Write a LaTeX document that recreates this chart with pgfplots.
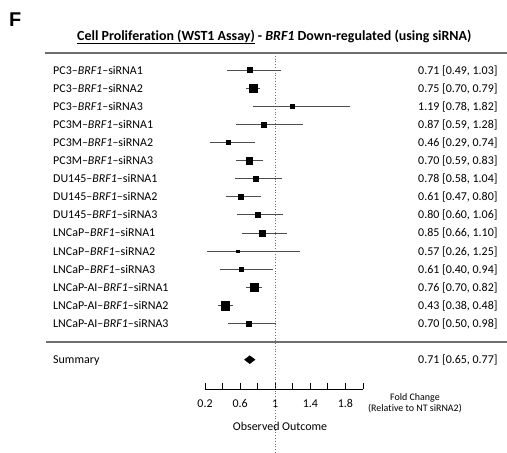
\documentclass[border=0pt]{standalone}
\usepackage{pgfplots}
\pgfplotsset{compat=1.18}
\usepackage{pgfplotstable}
\usepackage{fontspec}
\setmainfont{Carlito}[Ligatures=NoCommon]
\newfontfamily\arialfont{Liberation Sans}

\definecolor{cigray}{HTML}{4D4D4D}
\definecolor{rulegray}{HTML}{6E6E6E}

% row position, estimate, CI low, CI high, half side of the square (weight)
\pgfplotstableread{
row est lo hi ms
-1  0.71 0.49 1.03 2.5
-2  0.75 0.70 0.79 4.2
-3  1.19 0.78 1.82 2.0
-4  0.87 0.59 1.28 2.5
-5  0.46 0.29 0.74 2.0
-6  0.70 0.59 0.83 3.2
-7  0.78 0.58 1.04 2.7
-8  0.61 0.47 0.80 2.7
-9  0.80 0.60 1.06 2.7
-10 0.85 0.66 1.10 3.0
-11 0.57 0.26 1.25 1.3
-12 0.61 0.40 0.94 2.3
-13 0.76 0.70 0.82 4.0
-14 0.43 0.38 0.48 4.5
-15 0.70 0.50 0.98 2.7
}\forestdata

\begin{document}
\begin{tikzpicture}[every node/.style={font=\fontsize{12}{14}\selectfont}]
\begin{axis}[
    at={(205bp,-389bp)}, anchor=south west,
    scale only axis, width=158bp, height=336bp,
    xmin=0.2, xmax=2.0, ymin=-18.62, ymax=-0.06,
    axis x line*=bottom, axis y line=none,
    ytick=\empty,
    xtick={0.2,0.6,1,1.4,1.8},
    minor xtick={0.4,0.8,1.2,1.6,2.0},
    tick align=inside,
    major tick length=6bp, minor tick length=6bp,
    tick style={black, line width=0.8pt},
    x axis line style={black, line width=0.8pt, -},
    xticklabel style={font=\fontsize{12}{14}\selectfont, yshift=-7bp},
    /pgf/number format/assume math mode=true,
    clip=false,
]

% line of no effect
\addplot[rulegray, dotted, line width=0.8pt] coordinates {(1,-0.06) (1,-22.1)};

% studies
\addplot[scatter, only marks, mark=square*,
    scatter/use mapped color={draw=black, fill=black},
    visualization depends on={\thisrow{ms}\as\msize},
    scatter/@pre marker code/.append style={/tikz/mark size=\msize},
    error bars/.cd, x dir=both, x explicit,
    error bar style={cigray, line width=0.9pt},
    error mark options={cigray, mark size=3bp, line width=0.9pt}]
    table[x=est, y=row,
          x error plus expr=\thisrow{hi}-\thisrow{est},
          x error minus expr=\thisrow{est}-\thisrow{lo}] \forestdata;

% summary diamond
\addplot[black, fill=black] coordinates {(0.65,-17) (0.71,-16.78) (0.77,-17) (0.71,-17.22)} -- cycle;
\end{axis}

\begin{scope}[x=1bp, y=-1bp]
\useasboundingbox (0,0) rectangle (507,452);
\node[anchor=base west, inner sep=0, font=\arialfont\bfseries\fontsize{20}{24}\selectfont] at (9,26.7) {F};
\node[anchor=base west, inner sep=0, font=\bfseries\fontsize{14}{16}\selectfont] at (77,40)
  {\underline{Cell Proliferation (WST1 Assay)} - \textit{BRF1} Down-regulated (using siRNA)};
\draw[rulegray, line width=1.5bp] (45,53) -- (507,53);
\draw[rulegray, line width=1.5bp] (46,342) -- (507,342);

\foreach \c/\n/\v [count=\i] in {
  PC3/1/{0.71 [0.49, 1.03]}, PC3/2/{0.75 [0.70, 0.79]}, PC3/3/{1.19 [0.78, 1.82]},
  PC3M/1/{0.87 [0.59, 1.28]}, PC3M/2/{0.46 [0.29, 0.74]}, PC3M/3/{0.70 [0.59, 0.83]},
  DU145/1/{0.78 [0.58, 1.04]}, DU145/2/{0.61 [0.47, 0.80]}, DU145/3/{0.80 [0.60, 1.06]},
  LNCaP/1/{0.85 [0.66, 1.10]}, LNCaP/2/{0.57 [0.26, 1.25]}, LNCaP/3/{0.61 [0.40, 0.94]},
  LNCaP-AI/1/{0.76 [0.70, 0.82]}, LNCaP-AI/2/{0.43 [0.38, 0.48]}, LNCaP-AI/3/{0.70 [0.50, 0.98]}} {
  \node[anchor=base west, inner sep=0] at (53, {70+(\i-1)*18.1+4}) {\c–\textit{BRF1}–siRNA\n};
  \node[anchor=base west, inner sep=0] at (418, {70+(\i-1)*18.1+4}) {\v};
}
\node[anchor=base west, inner sep=0] at (53,363) {Summary};
\node[anchor=base west, inner sep=0] at (418,363) {0.71 [0.65, 0.77]};

\node[anchor=base, inner sep=0] at (280,430) {Observed Outcome};
\node[anchor=base, inner sep=0, font=\fontsize{10}{12}\selectfont] at (415,400.5) {Fold Change};
\node[anchor=base, inner sep=0, font=\fontsize{10}{12}\selectfont] at (415,411.5) {(Relative to NT siRNA2)};
\end{scope}
\end{tikzpicture}
\end{document}
